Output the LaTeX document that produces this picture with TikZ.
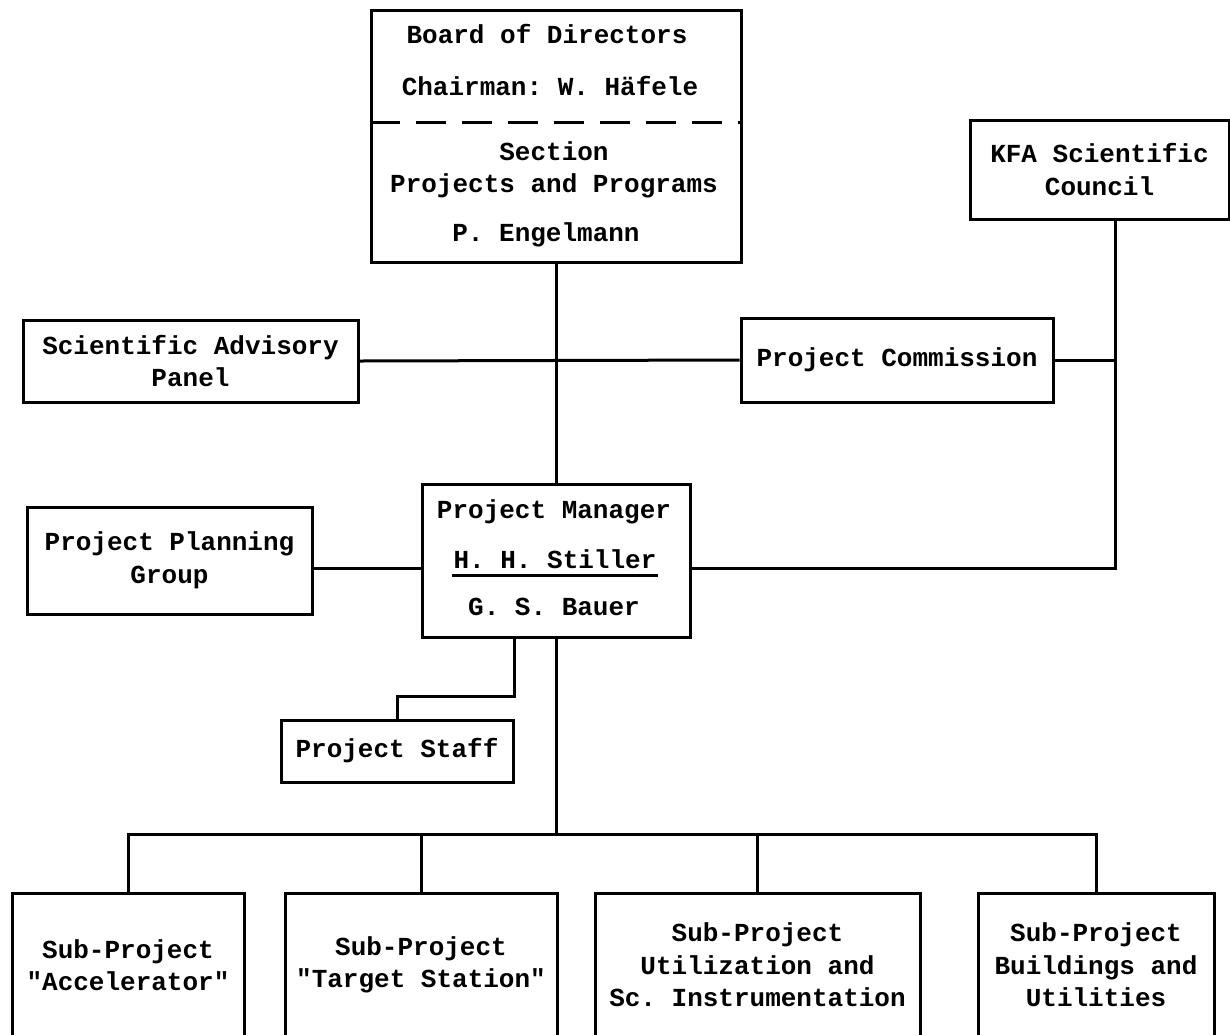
\documentclass[tikz,border=0pt]{standalone}
\usepackage{fontspec}
\setmonofont{Liberation Mono}
\begin{document}
\begin{tikzpicture}[x=0.5pt,y=-0.5pt,line width=1.5pt,line join=miter,
                every node/.style={font=\ttfamily\bfseries\fontsize{13}{16.25}\selectfont},
                box/.style={draw,align=center,inner sep=0pt},
                txt/.style={inner sep=0pt,anchor=base}]
                \useasboundingbox (0,0) rectangle (1230,1034);
                \node[box,minimum width=185pt,minimum height=126pt] (board) at (556,136) {};
                \node[txt] (board1) at (547,43) {Board of Directors};
                \node[txt] (board2) at (550,95) {Chairman: W. Häfele};
                \node[txt] (board3) at (554,160) {Section};
                \node[txt] (board4) at (554,192) {Projects and Programs};
                \node[txt] (board5) at (546,241) {P. Engelmann};
                \coordinate (split) at (556,122);
                \draw[dash pattern=on 15pt off 8pt] (board.west |- split) -- (board.east |- split);
                \node[box,minimum width=129.5pt,minimum height=49.5pt] (kfa) at (1099.5,169.5) {KFA Scientific\\Council};
                \node[box,minimum width=167.5pt,minimum height=41pt] (sap) at (190.5,361) {Scientific Advisory\\Panel};
                \node[box,minimum width=156pt,minimum height=42pt] (comm) at (897,360) {Project Commission};
                \node[box,minimum width=134pt,minimum height=76.5pt] (pm) at (556,560.5) {};
                \node[txt] (pm1) at (554,518) {Project Manager};
                \node[txt] (pm2) at (555,568) {H. H. Stiller};
                \node[txt] (pm3) at (554,615) {G. S. Bauer};
                \draw ([yshift=-3.5pt]pm2.base west) -- ([yshift=-3.5pt]pm2.base east);
                \node[box,minimum width=142.5pt,minimum height=53.5pt] (ppg) at (169.5,560.5) {Project Planning\\Group};
                \node[box,minimum width=116pt,minimum height=31pt] (staff) at (397,751) {Project Staff};
                \node[box,minimum width=116pt,minimum height=72pt] (sub1) at (128,965) {Sub-Project\\"Accelerator"};
                \node[box,minimum width=136pt,minimum height=72pt] (sub2) at (421,965) {Sub-Project\\"Target Station"};
                \node[box,minimum width=162.5pt,minimum height=72pt] (sub3) at (757.5,965) {Sub-Project\\Utilization and\\Sc. Instrumentation};
                \node[box,minimum width=118pt,minimum height=72pt] (sub4) at (1096,965) {Sub-Project\\Buildings and\\Utilities};
                \coordinate (knee) at (1115,568);
                \coordinate (bus) at (556,834);
                \draw (board.south) -- (pm.north);
                \draw (sap.east) -- (comm.west);
                \draw (comm.east) -- (comm.east -| knee);
                \draw (kfa.south -| knee) -- (knee) -- (knee -| pm.east);
                \draw (ppg.east |- knee) -- (pm.west |- knee);
                \draw (pm.south -| staff.north east) -- ++(0,58) -| (staff.north);
                \draw (pm.south) -- (bus);
                \draw (sub1.north) |- (bus) -| (sub4.north);
                \foreach \s in {sub2,sub3}
                    \draw (\s.north) -- (\s.north |- bus);
            \end{tikzpicture}
\end{document}
